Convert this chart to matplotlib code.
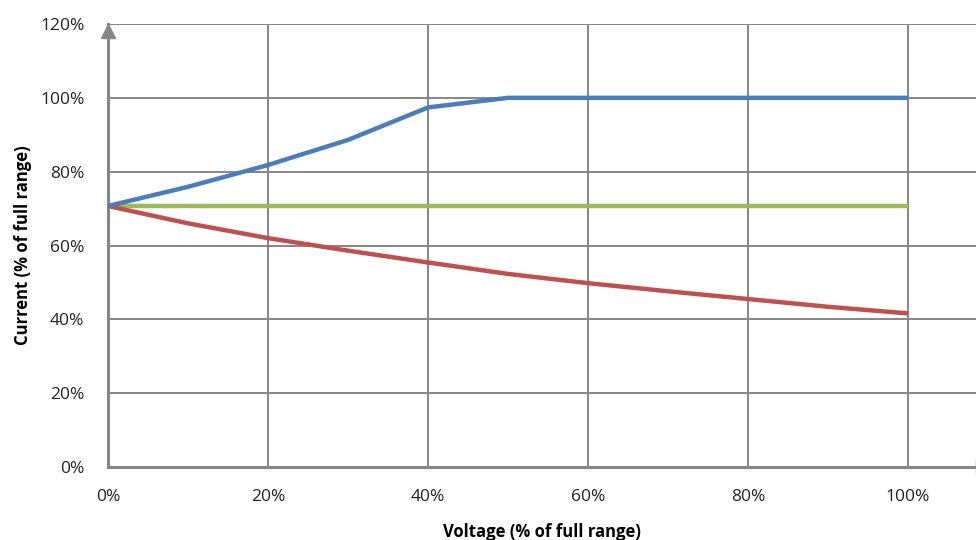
import matplotlib
matplotlib.use("Agg")
import matplotlib.pyplot as plt
from matplotlib.ticker import FuncFormatter

# données (en % de la pleine échelle)
tension = [0, 10, 20, 30, 40, 50, 60, 70, 80, 90, 100]
courant_bleu = [70.7, 75.9, 81.8, 88.6, 97.4, 100, 100, 100, 100, 100, 100]
courant_vert = [70.7, 70.7, 70.7, 70.7, 70.7, 70.7, 70.7, 70.7, 70.7, 70.7, 70.7]
courant_rouge = [70.7, 66.0, 62.0, 58.6, 55.4, 52.3, 49.8, 47.6, 45.5, 43.4, 41.6]

xticks = [0, 20, 40, 60, 80, 100]
yticks = [0, 20, 40, 60, 80, 100, 120]

plt.rcParams['font.family'] = ['Open Sans', 'DejaVu Sans']

fig = plt.figure(figsize=(9.76, 5.4), dpi=100)
ax = fig.add_axes([108/976, 73/540, 868/976, 443/540])

gris = '#868686'

ax.plot(tension, courant_vert, color='#9BBB59', lw=3.2, solid_capstyle='butt', zorder=3)
ax.plot(tension, courant_rouge, color='#C0504D', lw=3.2, solid_capstyle='butt', zorder=4)
ax.plot(tension, courant_bleu, color='#4A7EBB', lw=3.2, solid_capstyle='butt', zorder=5)

ax.set_xlim(0, 108.5)
ax.set_ylim(0, 120)
ax.set_xticks(xticks)
ax.set_yticks(yticks)
ax.xaxis.set_major_formatter(FuncFormatter(lambda v, p: '%d%%' % v))
ax.yaxis.set_major_formatter(FuncFormatter(lambda v, p: '%d%%' % v))
ax.tick_params(length=0, labelsize=12.5, labelcolor='#222222')
ax.tick_params(axis='x', pad=16)
ax.tick_params(axis='y', pad=17)

ax.grid(True, color=gris, lw=1.4, zorder=1)
ax.set_axisbelow(True)
for s in ['top', 'right']:
    ax.spines[s].set_visible(False)
for s in ['left', 'bottom']:
    ax.spines[s].set_color(gris)
    ax.spines[s].set_linewidth(2.2)

# flèches des axes
ax.plot(0, 118.2, marker='^', ms=10, color=gris, clip_on=False, zorder=6)
ax.plot(109.4, 0, marker='>', ms=10, color=gris, clip_on=False, zorder=6)

ax.set_xlabel('Voltage (% of full range)', fontsize=12, fontweight='bold', labelpad=13)
ax.set_ylabel('Current (% of full range)', fontsize=12, fontweight='bold', labelpad=6)

fig.savefig('out.png', dpi=100)
